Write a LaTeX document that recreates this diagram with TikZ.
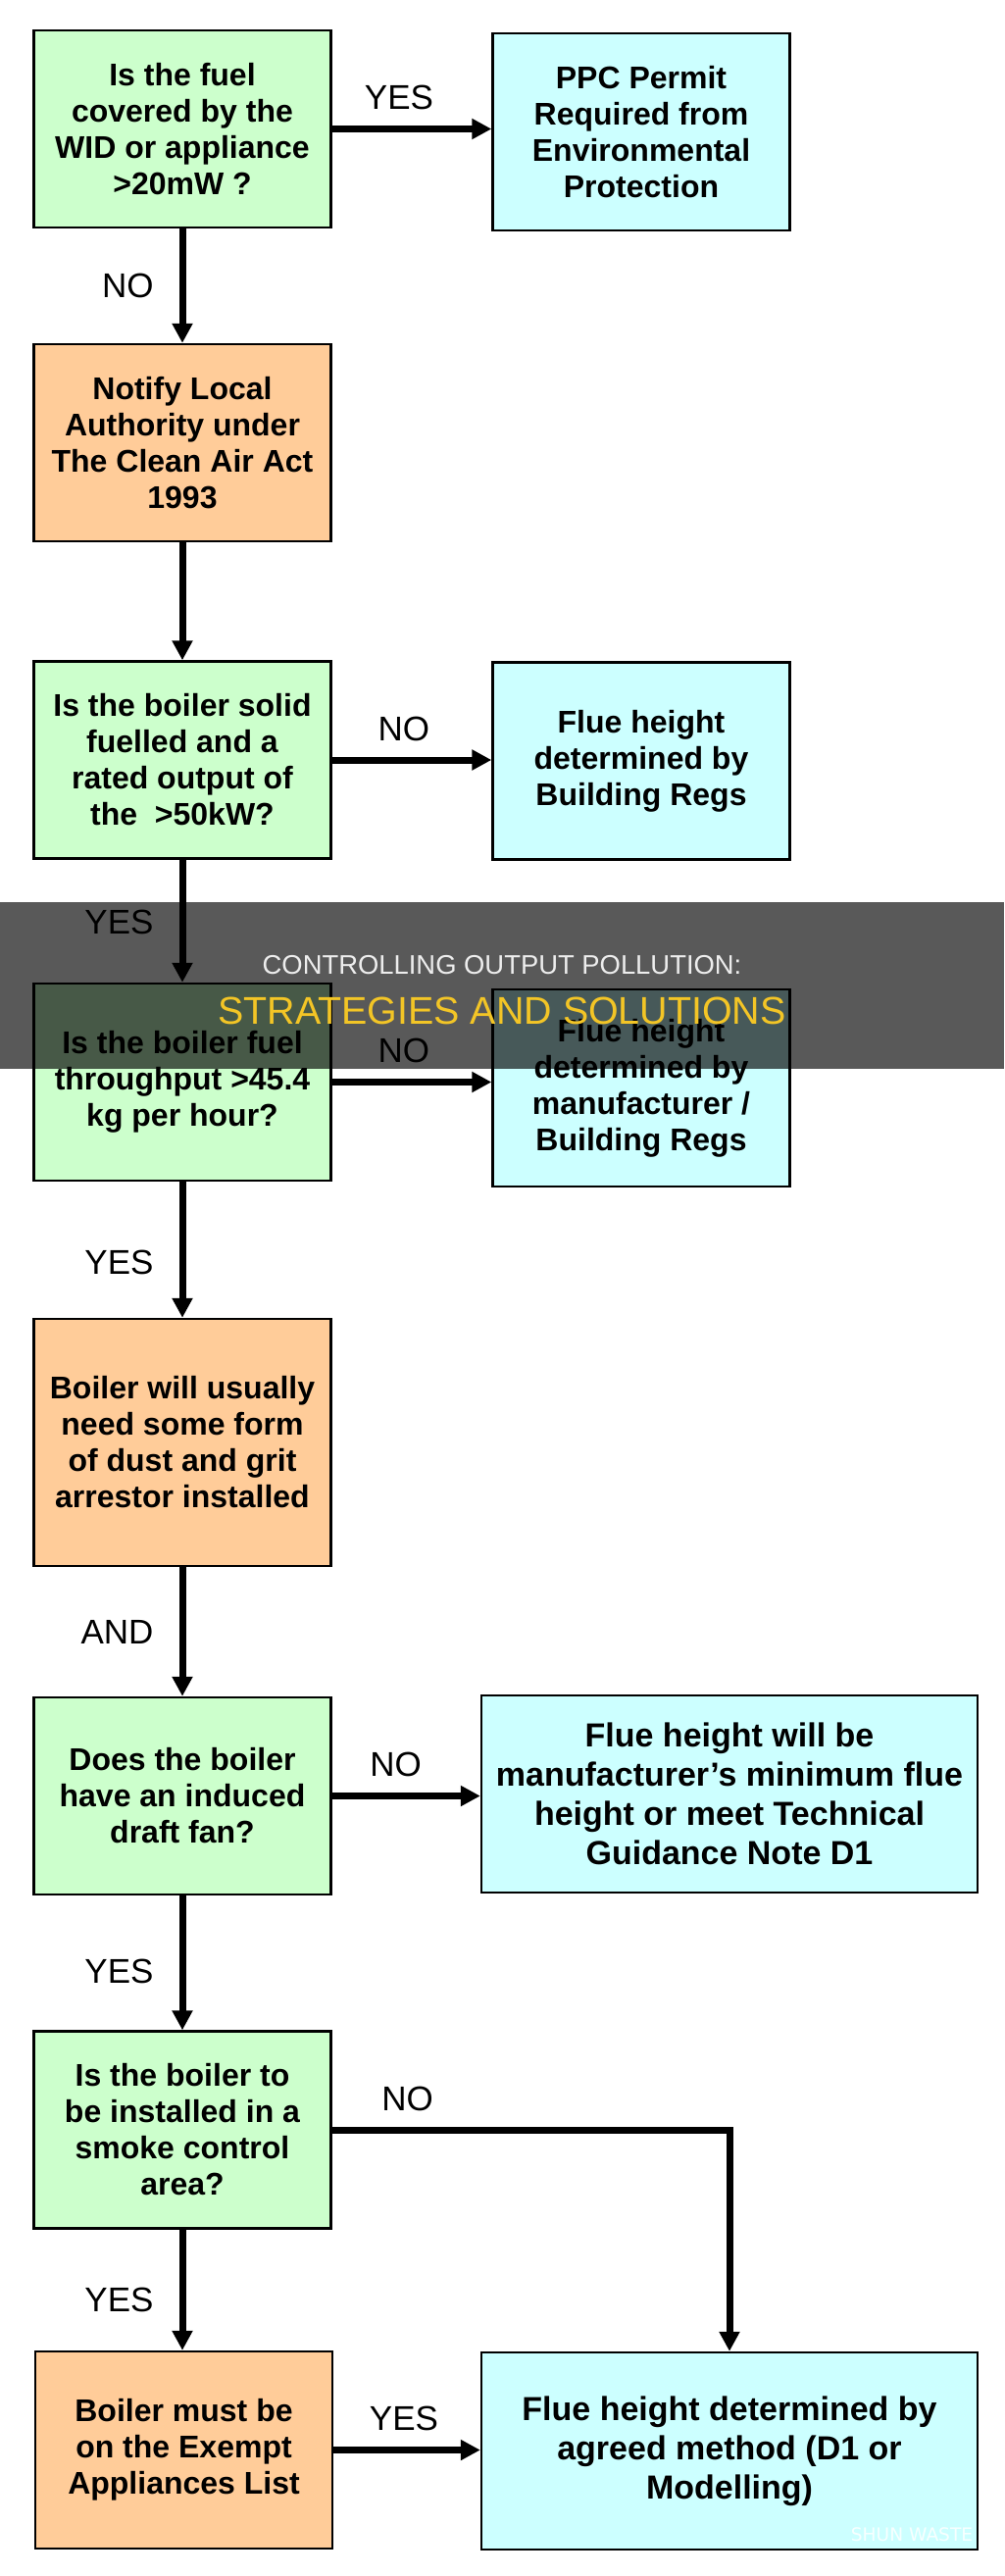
\documentclass[tikz,border=0pt]{standalone}
\usepackage{fontspec}
\setmainfont{Liberation Sans}
\newfontfamily\markfont{DejaVu Sans}
\usetikzlibrary{arrows.meta}

\definecolor{askgreen}{RGB}{204,255,204}
\definecolor{actorange}{RGB}{255,204,153}
\definecolor{endcyan}{RGB}{204,255,255}
\definecolor{bannergold}{RGB}{243,197,38}

\newcommand*{\colL}{186}
\newcommand*{\colR}{654}
\newcommand*{\colW}{744}

\begin{document}
\begin{tikzpicture}
[
	x=0.5pt, y=-0.5pt,
	box/.style={rectangle,draw=black,line width=1.2pt,align=center,inner sep=0pt,
		minimum width=151.5pt,minimum height=100.5pt,
		font=\fontsize{16}{18.5}\selectfont\bfseries},
	ask/.style={box,fill=askgreen},
	act/.style={box,fill=actorange},
	res/.style={box,fill=endcyan},
	wideres/.style={res,minimum width=253pt,font=\fontsize{17}{20}\selectfont\bfseries},
	flow/.style={line width=3.5pt,-{Triangle[length=10pt,width=10pt]}},
	lbl/.style={inner sep=0pt,font=\fontsize{17.5}{21}\selectfont}
]
	\useasboundingbox (0,0) rectangle (1024,2627);

	% left column
	\node[ask] (fuel) at (\colL,131.5) {Is the fuel\\covered by the\\WID or appliance\\>20mW ?};
	\node[act] (notify) at (\colL,451.5) {Notify Local\\Authority under\\The Clean Air Act\\1993};
	\node[ask] (solid) at (\colL,775) {Is the boiler solid\\fuelled and a\\rated output of\\the\ \ >50kW?};
	\node[ask] (through) at (\colL,1103.5) {Is the boiler fuel\\throughput >45.4\\kg per hour?};
	\node[act,minimum height=126pt] (dust) at (\colL,1471) {Boiler will usually\\need some form\\of dust and grit\\arrestor installed};
	\node[ask] (draft) at (\colL,1831.5) {Does the boiler\\have an induced\\draft fan?};
	\node[ask] (smoke) at (\colL,2172) {Is the boiler to\\be installed in a\\smoke control\\area?};
	\node[act] (exempt) at (187.5,2498.5) {Boiler must be\\on the Exempt\\Appliances List};

	% right column
	\node[res] (ppc) at (\colR,134.5) {PPC Permit\\Required from\\Environmental\\Protection};
	\node[res] (flueA) at (\colR,776) {Flue height\\determined by\\Building Regs};
	\node[res] (flueB) at (\colR,1109.5) {Flue height\\determined by\\manufacturer /\\Building Regs};
	\node[wideres] (flueC) at (\colW,1829.5) {Flue height will be\\manufacturer’s minimum flue\\height or meet Technical\\Guidance Note D1};
	\node[wideres] (flueD) at (\colW,2499.5) {Flue height determined by\\agreed method (D1 or\\Modelling)};

	% down the left
	\draw[flow] (fuel) -- node[lbl,left=13pt] (noA) {NO} (notify);
	\draw[flow] (notify) -- (solid);
	\draw[flow] (solid) -- node[lbl,left=13pt,pos=0.51] (yesB) {YES} (through);
	\draw[flow] (through) -- node[lbl,left=13pt,pos=0.59] (yesC) {YES} (dust);
	\draw[flow] (dust) -- node[lbl,left=13pt] (andA) {AND} (draft);
	\draw[flow] (draft) -- node[lbl,left=13pt,pos=0.56] (yesD) {YES} (smoke);
	\draw[flow] (smoke.south) -- node[lbl,left=13pt,pos=0.58] (yesE) {YES} (smoke.south |- exempt.north);

	% across to the right
	\draw[flow] (fuel.east) -- node[lbl,above=8pt,pos=0.42] (yesA) {YES} (fuel.east -| ppc.west);
	\draw[flow] (solid.east) -- node[lbl,above=8pt,pos=0.45] (noB) {NO} (solid.east -| flueA.west);
	\draw[flow] (through.east) -- node[lbl,above=8pt,pos=0.45] (noC) {NO} (through.east -| flueB.west);
	\draw[flow] (draft.east) -- node[lbl,above=8pt,pos=0.43] (noD) {NO} (draft.east -| flueC.west);
	\draw[flow] (smoke.east) -- node[lbl,above=8pt,pos=0.19] (noE) {NO} (smoke.east -| flueD.north) -- (flueD.north);
	\draw[flow] (exempt.east) -- node[lbl,above=8pt,pos=0.48] (yesF) {YES} (exempt.east -| flueD.west);

	% title band
	\fill[black,opacity=0.65] (0,920) rectangle (1024,1090);
	\node[inner sep=0pt,text=white!93!black,font=\fontsize{13.7}{16}\selectfont] (bandA) at (512,984) {CONTROLLING OUTPUT POLLUTION:};
	\node[inner sep=0pt,text=bannergold,font=\fontsize{19.7}{23}\selectfont] (bandB) at (512,1031) {STRATEGIES AND SOLUTIONS};

	% watermark
	\node[inner sep=0pt,text=white,opacity=0.85,font=\markfont\fontsize{9.3}{11}\selectfont] (mark) at (930,2585) {SHUN WASTE};

\end{tikzpicture}
\end{document}
